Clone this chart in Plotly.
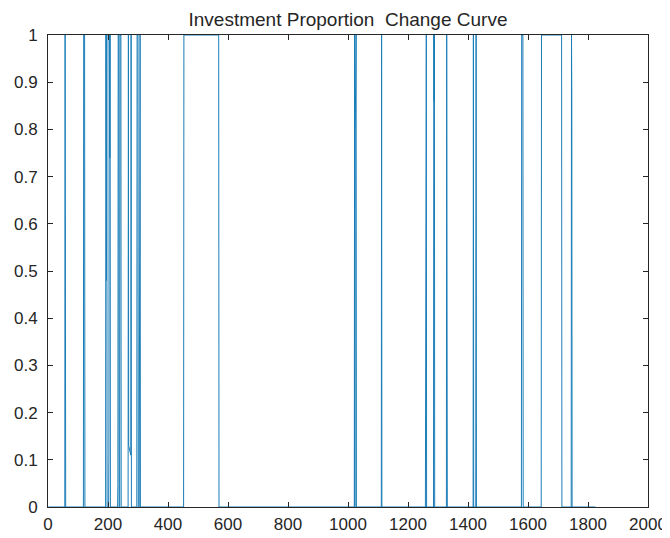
import plotly.graph_objects as go

# Day index and investment proportion at each change point (0 = out, 1 = fully invested)
days = [1, 56, 57, 58, 59,
        118, 119, 122, 123,
        192, 193, 195, 196, 197, 202, 203, 204, 206, 207, 208,
        232, 233, 234, 236, 237, 239, 240, 243, 244,
        267, 268, 269, 276, 277, 278,
        296, 297, 300, 301, 304, 305, 307, 308,
        452, 453, 569, 570,
        1021, 1022, 1023, 1024, 1026, 1027, 1028,
        1111, 1112, 1113,
        1258, 1259, 1261, 1262,
        1285, 1286, 1287, 1288, 1289,
        1328, 1329, 1330, 1331,
        1417, 1418, 1419, 1426, 1427, 1428,
        1578, 1579, 1583, 1584,
        1644, 1645, 1712, 1713,
        1744, 1745, 1746, 1747,
        1825]
proportion = [0, 0, 1, 0.76, 0,
              0, 1, 1, 0,
              0, 1, 0.48, 1, 0, 0, 0.11, 1, 0.74, 1, 0,
              0, 0.05, 1, 1, 0, 0, 1, 1, 0,
              0, 1, 0.13, 0.11, 1, 0,
              0, 1, 1, 0, 0, 1, 1, 0,
              0, 1, 1, 0,
              0, 1, 0, 0.79, 0.92, 1, 0,
              0, 1, 0,
              0, 1, 1, 0,
              0, 1, 0.86, 1, 0,
              0, 1, 0.35, 0,
              0, 1, 0, 0, 1, 0,
              0, 1, 1, 0,
              0, 1, 1, 0,
              0, 1, 0.87, 0,
              0]

x_ticks = list(range(0, 2001, 200))
y_ticks = [round(i * 0.1, 1) for i in range(11)]
y_labels = ["0", "0.1", "0.2", "0.3", "0.4", "0.5", "0.6", "0.7", "0.8", "0.9", "1"]

fig = go.Figure()
fig.add_trace(go.Scatter(x=days, y=proportion, mode="lines",
                         line=dict(color="#1a7db8", width=1),
                         showlegend=False))

axis_col = "#262626"
# page body has an 8px default margin, so the figure is 662x530 inside the 670x538 window
fig.update_layout(
    width=662, height=530,
    margin=dict(l=40, r=22, t=27, b=31, autoexpand=False),
    paper_bgcolor="white", plot_bgcolor="white",
    font=dict(family="Liberation Sans, Arial, sans-serif", size=17, color=axis_col),
    title=dict(text="Investment Proportion  Change Curve", x=0.5, xref="paper",
               xanchor="center", y=0.979, yref="container", yanchor="middle",
               font=dict(size=19, color=axis_col)),
)
fig.update_xaxes(range=[0, 2000], tickvals=x_ticks, ticks="inside", ticklen=5,
                 tickcolor=axis_col, showline=True, linecolor=axis_col, linewidth=1,
                 mirror="ticks", showgrid=False, zeroline=False, automargin=False,
                 ticklabelstandoff=2)
fig.update_yaxes(range=[0, 1], tickvals=y_ticks, ticktext=y_labels, ticks="inside",
                 ticklen=5, tickcolor=axis_col, showline=True, linecolor=axis_col,
                 linewidth=1, mirror="ticks", showgrid=False, zeroline=False,
                 automargin=False, ticklabelstandoff=6)

fig.write_html("out.html")
